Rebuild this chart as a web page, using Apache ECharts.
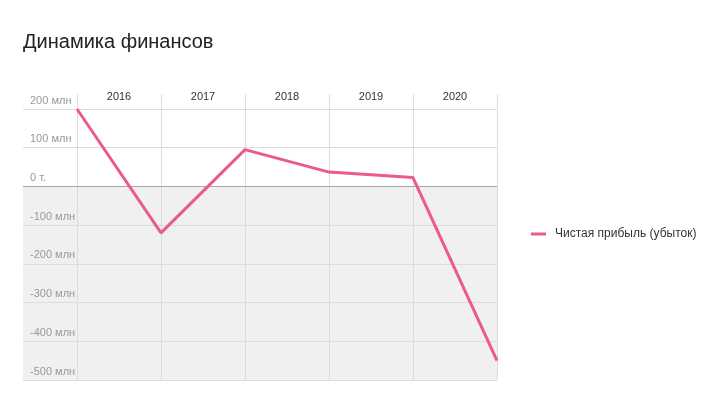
<!DOCTYPE html>
<html>
<head>
<meta charset="utf-8">
<script src="https://cdn.jsdelivr.net/npm/echarts@6/dist/echarts.min.js"></script>
<style>
  html, body { margin: 0; padding: 0; background: #fff; }
  #chart { width: 721px; height: 407px; }
</style>
</head>
<body>
<div id="chart"></div>
<script>
// Динамика финансов: чистая прибыль по годам
var years = ["2016", "2017", "2018", "2019", "2020"];
var profit = [200, -120, 95, 37, 23, -450]; // млн, точки на границах лет
var yTicks = [-500, -400, -300, -200, -100, 0, 100, 200];
var seriesName = "Чистая прибыль (убыток)";

var font = "Liberation Sans, Arial, Helvetica, sans-serif";
var chart = echarts.init(document.getElementById("chart"));

function fmt(v) {
  if (v === 0) return "0 т.";
  return v + " млн";
}

var option = {
  animation: false,
  title: {
    text: "Динамика финансов",
    left: 18,
    top: 27,
    textStyle: { fontFamily: font, fontSize: 20, fontWeight: "normal", color: "#222" }
  },
  legend: {
    data: [seriesName],
    orient: "vertical",
    left: 531,
    top: 228,
    padding: 0,
    icon: "rect",
    itemWidth: 15,
    itemHeight: 3,
    textStyle: { fontFamily: font, fontSize: 12, color: "#333", padding: [0, 0, 0, 4] }
  },
  grid: [
    // горизонтальная сетка с подписями
    { left: 23, right: 224, top: 109, bottom: 27 },
    // линия данных
    { left: 77, right: 224, top: 109, bottom: 27 },
    // шапка с годами и вертикальная сетка
    { left: 77, right: 224, top: 94, bottom: 27 }
  ],
  xAxis: [
    { gridIndex: 0, type: "value", min: 0, max: 1, show: false },
    { gridIndex: 1, type: "value", min: 0, max: years.length, show: false },
    {
      gridIndex: 2,
      type: "category",
      position: "top",
      data: years,
      boundaryGap: true,
      axisLine: { show: false },
      axisTick: { show: false },
      axisLabel: {
        margin: -3,
        verticalAlign: "middle",
        fontFamily: font,
        fontSize: 11,
        color: "#333"
      },
      splitLine: { show: true, lineStyle: { color: "#dcdcdc", width: 1 } }
    }
  ],
  yAxis: [
    {
      gridIndex: 0,
      type: "value",
      min: yTicks[0],
      max: yTicks[yTicks.length - 1],
      interval: 100,
      axisLine: { show: false },
      axisTick: { show: false },
      axisLabel: {
        inside: true,
        margin: 7,
        verticalAlign: "bottom",
        padding: [0, 0, 3, 0],
        fontFamily: font,
        fontSize: 11,
        color: "#999",
        formatter: fmt
      },
      splitLine: { show: true, lineStyle: { color: "#dcdcdc", width: 1 } }
    },
    { gridIndex: 1, type: "value", min: yTicks[0], max: yTicks[yTicks.length - 1], show: false },
    { gridIndex: 2, type: "value", show: false }
  ],
  series: [
    {
      name: "belowZero",
      type: "line",
      xAxisIndex: 0,
      yAxisIndex: 0,
      data: [],
      silent: true,
      markArea: {
        silent: true,
        z: -1,
        itemStyle: { color: "#f0f0f0" },
        data: [[{ yAxis: 0 }, { yAxis: yTicks[0] }]]
      },
      markLine: {
        silent: true,
        symbol: "none",
        label: { show: false },
        lineStyle: { color: "#a8a8a8", type: "solid", width: 1 },
        data: [{ yAxis: 0 }]
      }
    },
    {
      name: seriesName,
      type: "line",
      xAxisIndex: 1,
      yAxisIndex: 1,
      data: profit.map(function (v, i) { return [i, v]; }),
      showSymbol: false,
      symbol: "none",
      z: 10,
      lineStyle: { color: "#ea5a8f", width: 3 },
      itemStyle: { color: "#ea5a8f" }
    }
  ]
};

chart.setOption(option);
</script>
</body>
</html>
